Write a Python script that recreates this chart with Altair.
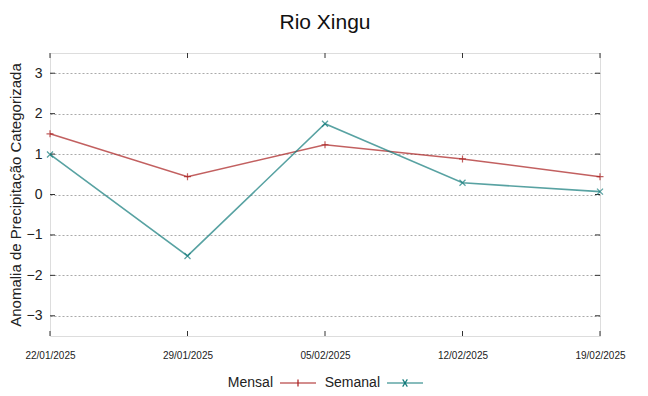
import altair as alt
import pandas as pd

datas = ["22/01/2025", "29/01/2025", "05/02/2025", "12/02/2025", "19/02/2025"]
mensal = [1.50, 0.44, 1.23, 0.88, 0.44]
semanal = [0.99, -1.52, 1.75, 0.29, 0.07]
series = ["Mensal", "Semanal"]
y_ticks = [-3, -2, -1, 0, 1, 2, 3]

cores = ["#a81c1c", "#117a7a"]
plus_path = "M-1,0L1,0M0,-1L0,1"
x_path = "M-1,-1L1,1M-1,1L1,-1"
leg_plus = "M-1,0L1,0M0,-0.2L0,0.2"
leg_x = "M-1,0L1,0M-0.13,-0.2L0.13,0.2M-0.13,0.2L0.13,-0.2"

rows = []
for i, d in enumerate(datas):
    rows.append({"data": d, "ordem": i, "serie": "Mensal", "valor": mensal[i]})
    rows.append({"data": d, "ordem": i, "serie": "Semanal", "valor": semanal[i]})
df = pd.DataFrame(rows)
df_ticks = pd.DataFrame({"v": y_ticks})
df_x = pd.DataFrame({"data": datas})

W, H = 550, 283

x_enc = alt.X("data:O", sort=datas,
              scale=alt.Scale(type="point", padding=0),
              axis=alt.Axis(title=None, labelAngle=0, ticks=False, domain=False,
                            labelPadding=19, labelFontSize=10, labelAlign="center",
                            labelFont="Liberation Sans", labelColor="#222"))
y_scale = alt.Scale(domain=[-3.5, 3.5], nice=False, zero=False)
y_enc = alt.Y("valor:Q", scale=y_scale,
              axis=alt.Axis(title="Anomalia de Precipitação Categorizada", values=y_ticks,
                            ticks=False, domain=False, grid=True, gridDash=[2, 2],
                            gridColor="#aaa", labelFontSize=14, labelPadding=8,
                            titleFontSize=15, titleFontWeight="normal", titlePadding=3,
                            labelColor="#222", titleColor="#222"))
color_scale = alt.Scale(domain=series, range=cores)
leg_def = alt.Legend(title=None, orient="none", legendX=229, legendY=H + 28,
                     direction="horizontal", labelFontSize=14, labelColor="#222",
                     symbolSize=1296, symbolStrokeWidth=1.2, symbolOpacity=1,
                     labelAlign="right", labelOffset={"expr": "-44"},
                     columnPadding=5, symbolOffset=0)

base = alt.Chart(df)

linhas = base.mark_line(strokeWidth=1.6, opacity=0.7).encode(
    x=x_enc, y=y_enc, color=alt.Color("serie:N", scale=color_scale, legend=leg_def)
)
pts_m = base.transform_filter(alt.datum.serie == "Mensal").mark_point(
    shape=plus_path, size=49, color=cores[0], strokeWidth=1.2, filled=False
).encode(x=alt.X("data:O", sort=datas), y="valor:Q")
pts_s = base.transform_filter(alt.datum.serie == "Semanal").mark_point(
    shape=x_path, size=36, color=cores[1], strokeWidth=1.2, filled=False
).encode(x=alt.X("data:O", sort=datas), y="valor:Q")

leg = base.mark_point(filled=False, strokeWidth=1, opacity=0).encode(
    x=alt.X("data:O", sort=datas), y="valor:Q",
    color=alt.Color("serie:N", scale=color_scale, legend=leg_def),
    shape=alt.Shape("serie:N", scale=alt.Scale(domain=series, range=[leg_plus, leg_x]),
                    legend=leg_def),
)

tick_top = alt.Chart(df_x).mark_rule(color="#333").encode(
    x=alt.X("data:O", sort=datas), y=alt.value(0), y2=alt.value(5))
tick_bot = alt.Chart(df_x).mark_rule(color="#333").encode(
    x=alt.X("data:O", sort=datas), y=alt.value(H - 5), y2=alt.value(H))
tick_l = alt.Chart(df_ticks).mark_rule(color="#333").encode(
    y=alt.Y("v:Q", scale=y_scale), x=alt.value(0), x2=alt.value(5))
tick_r = alt.Chart(df_ticks).mark_rule(color="#333").encode(
    y=alt.Y("v:Q", scale=y_scale), x=alt.value(W - 5), x2=alt.value(W))

chart = alt.layer(tick_top, tick_bot, tick_l, tick_r, linhas, pts_m, pts_s, leg).properties(
    width=W, height=H,
    autosize=alt.AutoSizeParams(type="none"),
    padding={"left": 42, "top": 45, "right": 40, "bottom": 52},
    title=alt.Title("Rio Xingu", fontSize=21, fontWeight="normal", offset=20,
                    font="Liberation Sans", color="#111"),
).configure_view(stroke="#777", strokeWidth=1.2).configure(
    font="Liberation Sans"
)

chart.save("out.html", embed_options={"renderer": "svg", "actions": False})
